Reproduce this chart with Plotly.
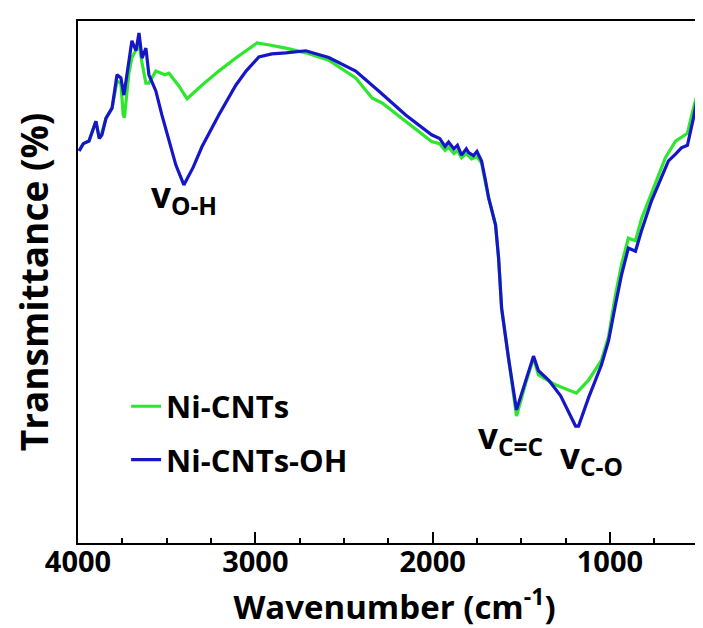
import plotly.graph_objects as go

# ---- data ----
wn_ni = [3994, 3970, 3938, 3915, 3899, 3880, 3865, 3842, 3808, 3780,
         3758, 3745, 3738, 3725, 3713, 3696, 3673, 3656, 3639, 3617,
         3600, 3561, 3510, 3487, 3430, 3385, 3301, 3206, 3110, 2990,
         2920, 2828, 2715, 2586, 2434, 2340, 2285, 2152, 2006, 1960,
         1930, 1910, 1880, 1860, 1837, 1810, 1780, 1750, 1724, 1701,
         1684, 1645, 1628, 1611, 1572, 1527, 1476, 1431, 1403, 1307,
         1189, 1121, 1048, 1008, 969, 935, 896, 856, 822, 783,
         687, 630, 563, 529, 494, 438]
t_ni = [75.1, 76.5, 77.0, 79.5, 80.8, 77.5, 78.6, 81.4, 83.3, 88.5,
        88.0, 82.0, 81.5, 86.0, 90.0, 93.0, 94.3, 95.5, 92.0, 88.1,
        88.1, 90.4, 89.7, 90.0, 87.5, 85.1, 87.7, 90.4, 92.9, 95.8,
        95.4, 94.8, 93.9, 92.5, 89.1, 85.2, 84.3, 80.8, 76.9, 76.5,
        75.2, 75.8, 74.6, 75.2, 73.8, 74.6, 73.6, 74.0, 72.8, 68.8,
        66.1, 60.9, 54.6, 45.0, 35.0, 24.3, 30.5, 35.4, 32.2, 30.3,
        28.7, 31.2, 35.0, 39.5, 47.5, 53.3, 58.4, 57.9, 62.1, 65.5,
        73.8, 77.0, 78.5, 83.3, 87.7, 93.5]

wn_oh = [3994, 3970, 3938, 3915, 3899, 3880, 3865, 3842, 3808, 3780,
         3758, 3741, 3713, 3696, 3673, 3656, 3639, 3617, 3600, 3561,
         3527, 3487, 3448, 3403, 3350, 3301, 3206, 3110, 3050, 2980,
         2907, 2828, 2715, 2586, 2434, 2304, 2152, 2006, 1960, 1930,
         1910, 1880, 1860, 1837, 1810, 1797, 1770, 1750, 1724, 1701,
         1684, 1645, 1628, 1611, 1572, 1527, 1476, 1431, 1403, 1346,
         1278, 1194, 1177, 1121, 1048, 1008, 969, 935, 896, 856,
         822, 766, 710, 670, 630, 597, 563, 529, 494, 438]
t_oh = [75.1, 76.5, 77.0, 79.5, 80.8, 77.5, 78.2, 81.4, 83.3, 89.7,
        89.1, 85.8, 92.3, 96.2, 94.3, 97.7, 92.9, 94.8, 89.7, 86.6,
        82.0, 77.0, 72.4, 68.6, 72.0, 75.9, 82.0, 87.7, 90.5, 93.1,
        93.7, 93.9, 94.3, 93.0, 90.4, 86.6, 82.0, 78.2, 77.5, 76.0,
        76.8, 75.5, 76.2, 74.3, 75.5, 74.8, 74.2, 75.0, 73.2, 69.3,
        66.1, 60.9, 54.6, 45.0, 35.4, 25.5, 31.0, 35.8, 33.0, 31.2,
        28.2, 22.4, 22.4, 27.8, 34.1, 38.7, 45.6, 51.3, 56.5, 55.9,
        59.8, 65.5, 70.0, 73.2, 74.5, 75.7, 76.2, 81.4, 87.7, 93.5]

series_names = ["Ni-CNTs", "Ni-CNTs-OH"]
label_ticks = [4000, 3000, 2000, 1000]
half_ticks = [3500, 2500, 1500, 500]

band_labels = ["v<sub>O-H</sub>", "v<sub>C=C</sub>", "v<sub>C-O</sub>"]
band_x = [3400, 1560, 1104]
band_y = [66.3, 20.2, 16.3]

FONT = "Open Sans"
GREEN = "#2fe62f"
BLUE = "#1616c8"
X_RANGE = [4000, 430]

fig = go.Figure()
fig.add_trace(go.Scatter(x=wn_ni, y=t_ni, mode="lines", name=series_names[0],
                         legendgroup="a",
                         line=dict(color=GREEN, width=3.2)))
fig.add_trace(go.Scatter(x=wn_oh, y=t_oh, mode="lines", name=series_names[1],
                         legendgroup="b",
                         line=dict(color=BLUE, width=3.2)))

for txt, bx, by in zip(band_labels, band_x, band_y):
    fig.add_annotation(x=bx, y=by, xref="x", yref="y", text="<b>" + txt + "</b>",
                       showarrow=False,
                       font=dict(family=FONT, size=35, color="black"))

fig.update_layout(
    width=703, height=628,
    margin=dict(l=70, r=0, t=13, b=93),
    paper_bgcolor="white", plot_bgcolor="white",
    showlegend=True,
    legend=dict(x=0.076, y=0.313, xanchor="left", yanchor="top",
                bgcolor="rgba(0,0,0,0)", borderwidth=0,
                traceorder="grouped", tracegroupgap=10,
                font=dict(family=FONT, size=31, color="black", weight="bold"),
                itemwidth=30),
    xaxis=dict(range=X_RANGE, showgrid=False, zeroline=False, automargin=False,
               showline=True, linecolor="black", linewidth=2, mirror=True,
               tickmode="array", tickvals=label_ticks,
               ticks="inside", ticklen=11, tickwidth=2, tickcolor="black",
               ticklabelstandoff=-8,
               minor=dict(dtick=250, tick0=0, ticks="inside", ticklen=5, tickwidth=2,
                          tickcolor="black", showgrid=False),
               tickfont=dict(family=FONT, size=29, color="black", weight="bold"),
               title=dict(text="<b>Wavenumber (cm<sup>-1</sup>)</b>", standoff=0,
                          font=dict(family=FONT, size=33, color="black"))),
    xaxis2=dict(range=X_RANGE, overlaying="x", anchor="y", side="bottom",
                showgrid=False, zeroline=False, showline=False,
                tickmode="array", tickvals=half_ticks, showticklabels=False,
                ticks="inside", ticklen=11, tickwidth=2, tickcolor="black"),
    yaxis=dict(range=[0, 100], showgrid=False, zeroline=False, automargin=False,
               showline=True, linecolor="black", linewidth=2, mirror=False,
               showticklabels=False, ticks="",
               title=dict(text="<b>Transmittance (%)</b>", standoff=16,
                          font=dict(family=FONT, size=37, color="black"))),
)

fig.write_html("out.html")
